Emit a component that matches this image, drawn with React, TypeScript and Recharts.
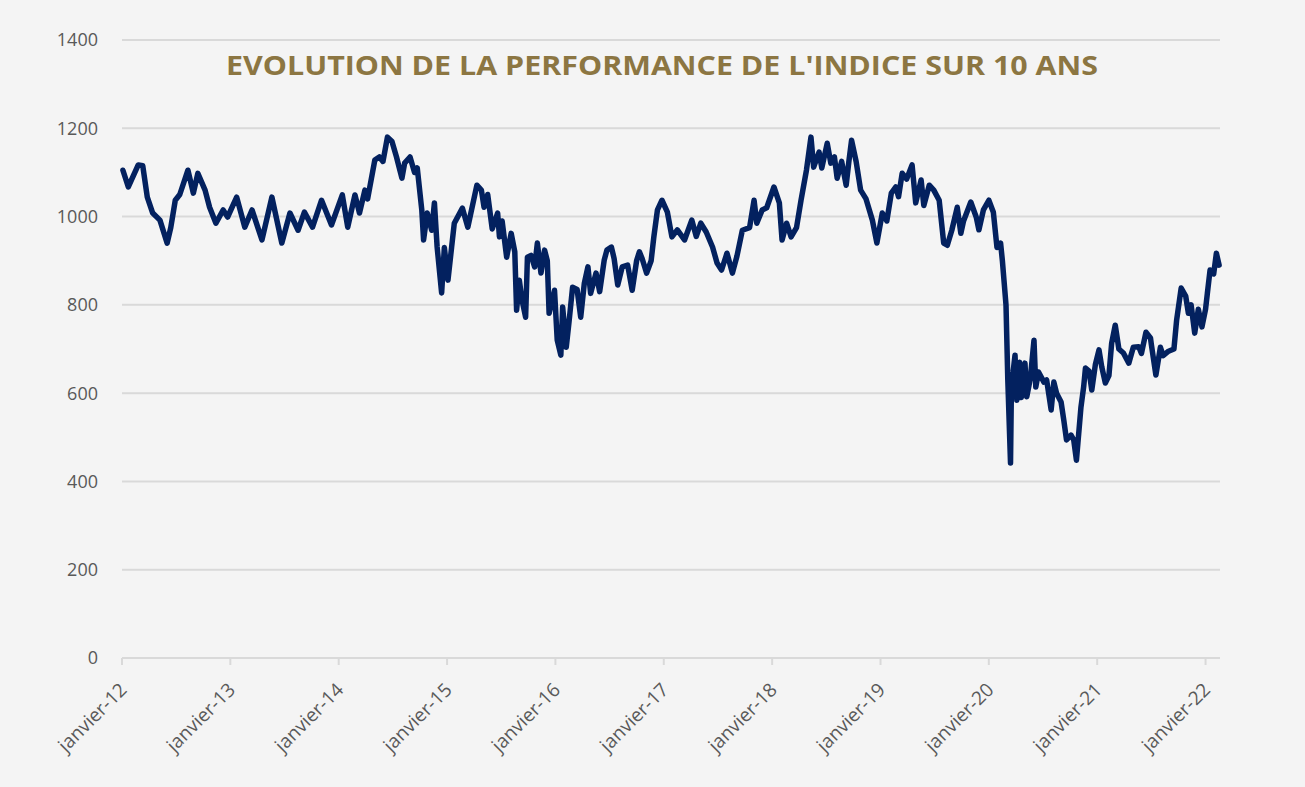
import React from 'react';
import { LineChart, Line, XAxis, YAxis, CartesianGrid } from 'recharts';

// months since janvier 2012
const months: number[] = [
  0.1, 0.7, 1.8, 2.3, 2.8, 3.4, 4.2, 5.0, 5.4, 5.9, 6.4, 7.3, 7.9, 8.4, 9.2, 9.7, 10.4, 11.2, 11.7,
  12.7, 13.6, 14.4, 15.5, 16.6, 17.7, 18.6, 19.5, 20.2, 21.1, 22.1, 23.2,
  24.4, 25.0, 25.8, 26.3, 26.9, 27.2, 28.0, 28.5, 28.9, 29.4, 29.9, 30.4, 31.0, 31.3, 31.9, 32.4, 32.7, 33.2, 33.4, 33.8, 34.3, 34.6, 34.9, 35.4, 35.7,
  36.1, 36.5, 36.8, 37.7, 38.3, 39.3, 39.8, 40.1, 40.5, 41.0, 41.6, 41.8, 42.1, 42.6, 43.1, 43.5, 43.7, 44.0, 44.3, 44.7, 44.9, 45.3, 45.7, 46.0, 46.4, 46.8, 47.1, 47.3, 47.9,
  48.2, 48.6, 48.8, 49.2, 49.5, 49.9, 50.4, 50.8, 51.2, 51.6, 51.9, 52.5, 52.9, 53.4, 53.7, 54.2, 54.5, 54.9, 55.4, 56.0, 56.5, 57.0, 57.3, 57.6, 58.1, 58.6, 58.9, 59.3, 59.8,
  60.4, 60.9, 61.5, 62.3, 63.1, 63.6, 64.1, 64.7, 65.4, 65.9, 66.4, 67.0, 67.6, 68.1, 68.7, 69.5, 70.0, 70.3, 70.9, 71.4,
  72.2, 72.8, 73.1, 73.6, 74.1, 74.7, 75.2, 75.8, 76.3, 76.6, 77.2, 77.5, 78.1, 78.5, 78.9, 79.2, 79.7, 80.2, 80.5, 80.8, 81.3, 81.8, 82.4, 83.1, 83.6,
  84.2, 84.7, 85.2, 85.7, 86.0, 86.4, 86.9, 87.5, 87.9, 88.5, 88.8, 89.4, 89.9, 90.5, 91.0, 91.4, 91.9, 92.5, 92.9, 93.2, 94.0, 94.6, 94.9, 95.4,
  96.0, 96.5, 96.9, 97.3, 97.5, 97.9, 98.1, 98.4, 98.5, 98.9, 99.1, 99.4, 99.6, 100.0, 100.2, 100.6, 101.0, 101.2, 101.5, 102.1, 102.4, 102.9, 103.2, 103.5, 104.0, 104.3, 104.6, 105.1, 105.4, 105.7, 106.2, 106.5, 106.7, 107.1, 107.4, 107.8,
  108.2, 108.5, 108.9, 109.3, 109.6, 110.0, 110.4, 110.9, 111.5, 112.0, 112.6, 112.9, 113.4, 113.9, 114.0, 114.5, 115.0, 115.3, 115.9, 116.5, 116.8, 117.3, 117.8, 118.1, 118.4, 118.8, 119.2, 119.6,
  120.0, 120.2, 120.5, 120.9, 121.2, 121.5,
];

const indexValues: number[] = [
  1105, 1067, 1117, 1115, 1044, 1008, 992, 940, 975, 1037, 1050, 1105, 1053, 1098, 1060, 1021, 985, 1015, 999,
  1044, 976, 1015, 947, 1044, 940, 1008, 969, 1010, 976, 1037, 981,
  1049, 976, 1049, 1008, 1060, 1040, 1128, 1135, 1125, 1180, 1170, 1135, 1087, 1121, 1135, 1100, 1110, 1015, 947, 1008, 969, 1031, 931, 827, 930,
  856, 930, 985, 1019, 976, 1071, 1060, 1021, 1050, 972, 1008, 954, 990, 908, 962, 920, 788, 856, 811, 772, 908, 912, 886, 940, 872, 924, 900, 781, 833,
  720, 686, 795, 704, 760, 840, 835, 772, 849, 886, 826, 872, 830, 901, 924, 931, 905, 845, 886, 890, 833, 901, 920, 905, 872, 900, 954, 1015, 1037,
  1010, 954, 970, 947, 992, 955, 985, 965, 931, 895, 879, 917, 872, 910, 969, 975, 1037, 985, 1015, 1020,
  1067, 1031, 947, 985, 954, 975, 1037, 1105, 1180, 1112, 1146, 1110, 1166, 1121, 1135, 1087, 1125, 1071, 1125, 1173, 1125, 1060, 1040, 992, 940,
  1008, 990, 1053, 1067, 1045, 1098, 1085, 1117, 1031, 1083, 1025, 1071, 1060, 1037, 940, 935, 969, 1021, 962, 990, 1033, 999, 970, 1015,
  1037, 1010, 930, 940, 900, 800, 630, 442, 614, 686, 584, 670, 590, 668, 592, 634, 720, 614, 648, 625, 630, 562, 625, 600, 580, 539, 494, 505, 494, 448, 568, 614, 657, 650, 607, 665,
  698, 660, 623, 640, 713, 754, 700, 691, 668, 704, 705, 690, 738, 725, 710, 641, 704, 685, 695, 700, 766, 838, 820, 781, 800, 736, 790, 750,
  790, 826, 879, 870, 917, 890,
];

const xTickMonths: number[] = [0, 12, 24, 36, 48, 60, 72, 84, 96, 108, 120];
const xTickLabels: string[] = [
  'janvier-12', 'janvier-13', 'janvier-14', 'janvier-15', 'janvier-16', 'janvier-17',
  'janvier-18', 'janvier-19', 'janvier-20', 'janvier-21', 'janvier-22',
];
const yTicks: number[] = [0, 200, 400, 600, 800, 1000, 1200, 1400];
const title = "EVOLUTION DE LA PERFORMANCE DE L'INDICE SUR 10 ANS";

const data = months.map((t, i) => ({ t, v: indexValues[i] }));

const FONT = '"Open Sans", "Noto Sans", sans-serif';

const XTick = (props: any) => {
  const { x, y, payload } = props;
  const idx = xTickMonths.indexOf(payload.value);
  const label = idx >= 0 ? xTickLabels[idx] : '';
  return (
    <g transform={`translate(${x + 6},${y + 24})`}>
      <text
        x={0}
        y={0}
        textAnchor="end"
        transform="rotate(-45)"
        fill="#595959"
        fontSize={19}
        fontFamily={FONT}
      >
        {label}
      </text>
    </g>
  );
};

export default function App() {
  return (
    <div
      style={{
        position: 'absolute',
        left: 0,
        top: 0,
        width: 1305,
        height: 787,
        background: '#f4f4f4',
        overflow: 'hidden',
      }}
    >
      <LineChart
        width={1305}
        height={787}
        data={data}
        margin={{ top: 40, right: 85, bottom: 29, left: 0 }}
      >
        <CartesianGrid vertical={false} stroke="#d9d9d9" strokeWidth={2} />
        <XAxis
          dataKey="t"
          type="number"
          domain={[0, 121.6]}
          ticks={xTickMonths}
          interval={0}
          height={100}
          axisLine={{ stroke: '#d9d9d9', strokeWidth: 2 }}
          tickLine={{ stroke: '#d9d9d9', strokeWidth: 2 }}
          tickSize={7}
          tick={<XTick />}
        />
        <YAxis
          type="number"
          domain={[0, 1400]}
          ticks={yTicks}
          interval={0}
          width={122}
          axisLine={false}
          tickLine={false}
          tickSize={0}
          tickMargin={24}
          tick={{ fill: '#595959', fontSize: 18, fontFamily: FONT }}
        />
        <Line
          type="linear"
          dataKey="v"
          stroke="#03215f"
          strokeWidth={5.5}
          strokeLinejoin="round"
          strokeLinecap="round"
          dot={false}
          activeDot={false}
          isAnimationActive={false}
        />
      </LineChart>
      <svg
        width={1305}
        height={100}
        style={{ position: 'absolute', left: 0, top: 0, pointerEvents: 'none' }}
      >
        <text
          x={662}
          y={75}
          textAnchor="middle"
          fill="#8c7642"
          fontSize={27}
          fontWeight={700}
          fontFamily={FONT}
          textLength={872}
          lengthAdjust="spacingAndGlyphs"
        >
          {title}
        </text>
      </svg>
    </div>
  );
}
